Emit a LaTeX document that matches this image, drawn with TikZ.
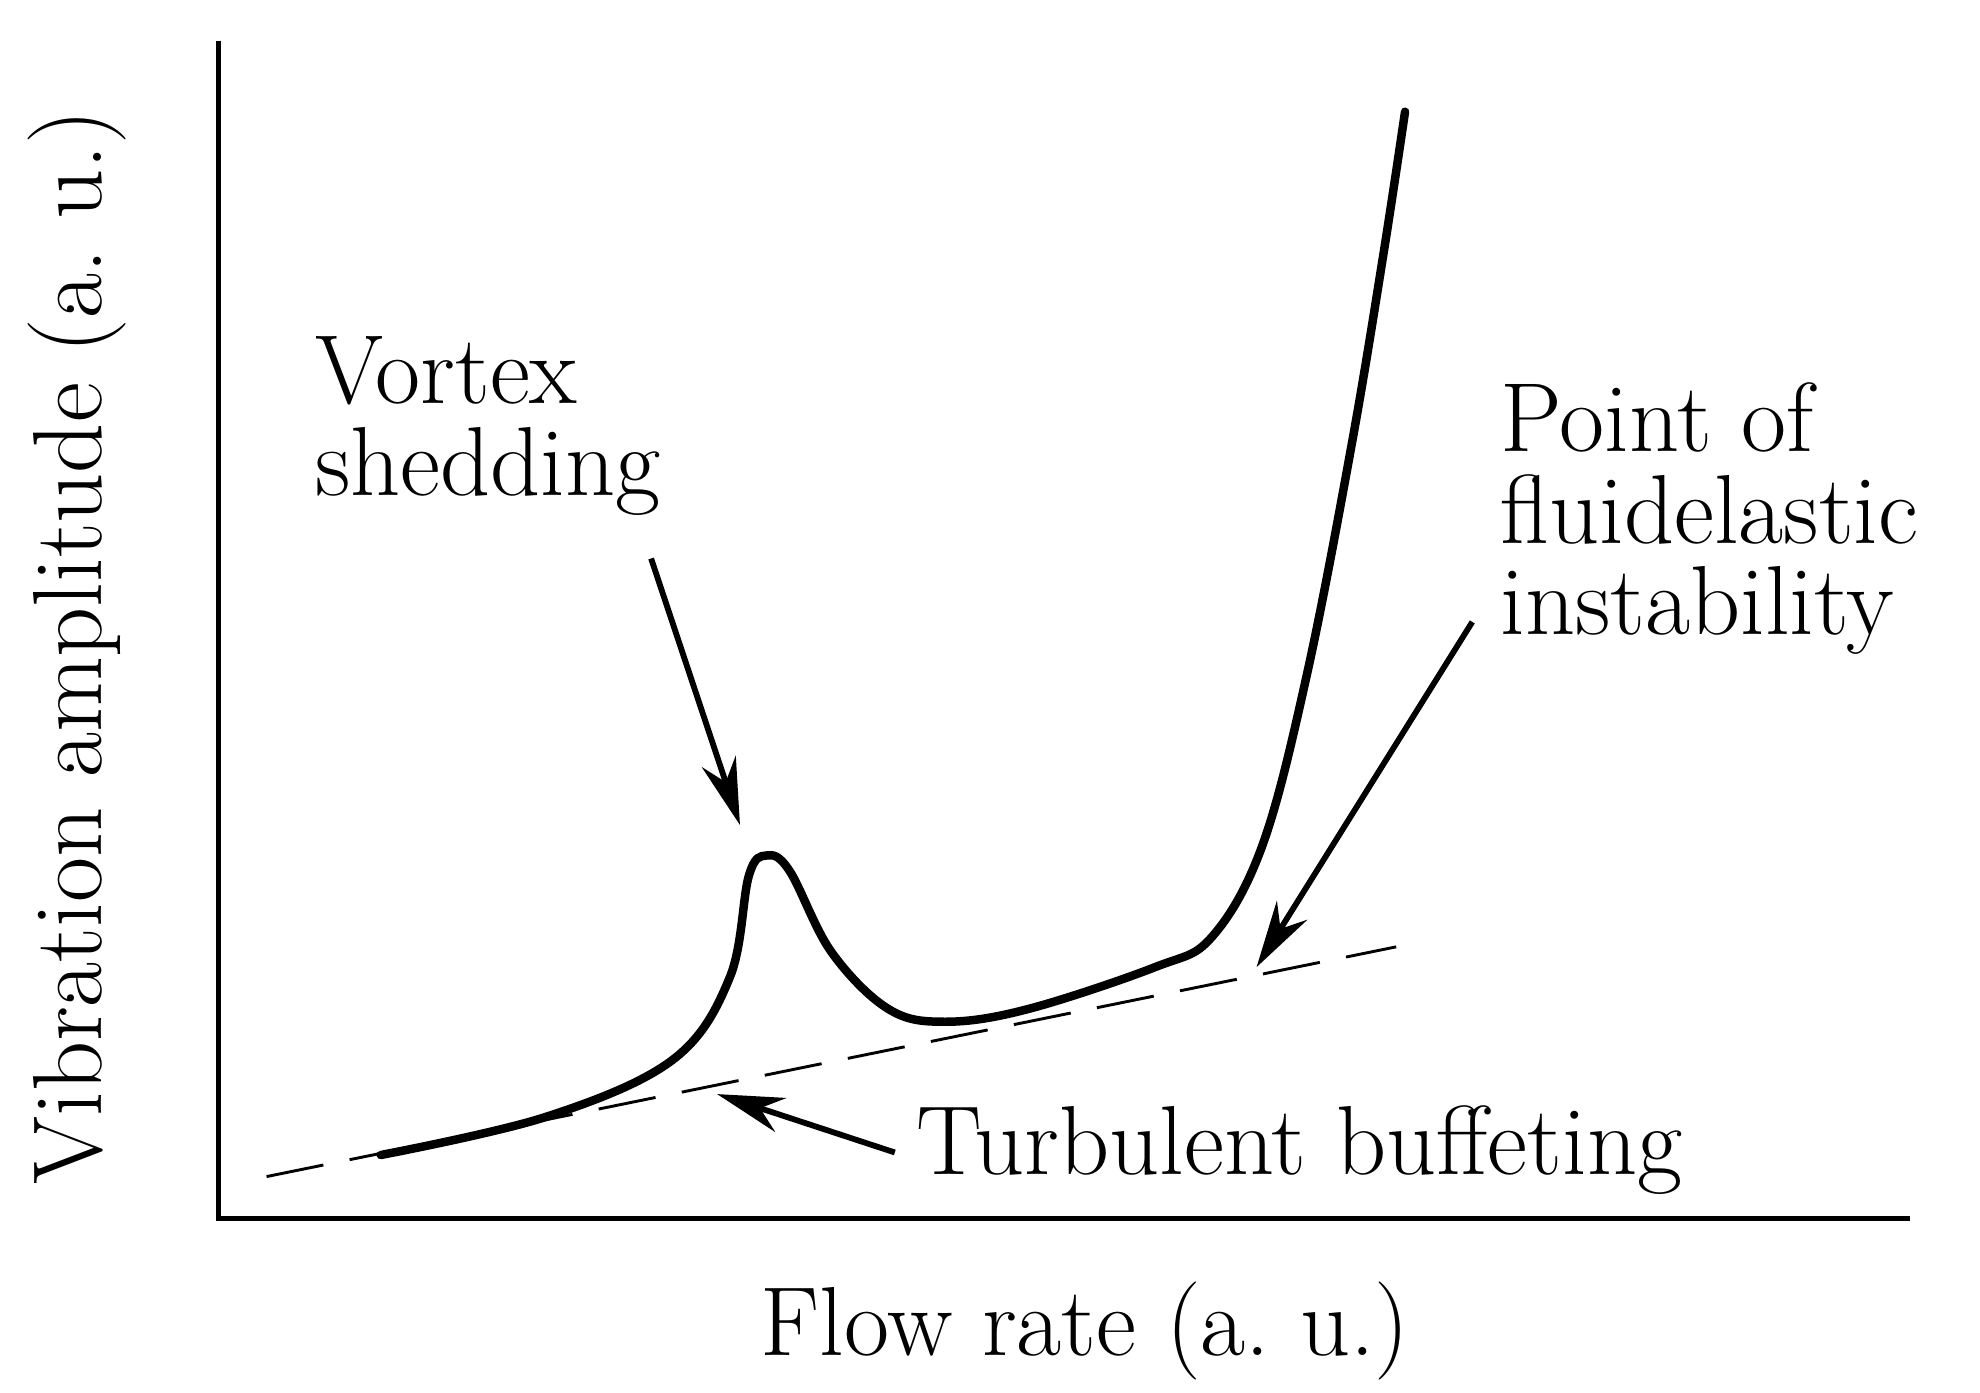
\documentclass[tikz,border=0pt]{standalone}
\usetikzlibrary{arrows.meta}
\begin{document}
\begin{tikzpicture}[x=0.02cm,y=-0.02cm,
  lbl/.style={font=\fontsize{44}{41}\selectfont,inner sep=0pt,align=left},
  ax/.style={line width=2.3pt},
  arr/.style={line width=2.6pt,-{Stealth[length=30pt,width=16pt]}}]
\useasboundingbox (0,0) rectangle (1560,1097.5);
\coordinate (top) at (172,32);
\coordinate (org) at (172,960);
\coordinate (right) at (1505,960);
\draw[ax] (top) -- (org) -- (right);
\coordinate (d1) at (210,927);
\coordinate (d2) at (1100,746);
\draw[line width=1.3pt,dash pattern=on 26pt off 12pt] (d1) -- (d2);
\draw[line width=3.8pt,line cap=round] plot[smooth,tension=0.6] coordinates {
 (300,910) (430,880) (530,835) (575,770) (590,690) (604,674) (622,686) (655,750) (700,795) (745,805) (810,795) (910,762) (955,738) (995,665) (1030,530) (1065,350) (1090,200) (1107,88)};
\node[lbl,anchor=base west] (vs) at (248,390) {Vortex\\shedding};
\node[lbl,anchor=base west] (pf) at (1182,500) {Point of\\fluidelastic\\instability};
\node[lbl,anchor=base west] (tb) at (722,925) {Turbulent buffeting};
\node[lbl,anchor=base] (xl) at (855,1068) {Flow rate (a.\ u.)};
\node[lbl,rotate=90,anchor=base] (yl) at (80,510) {Vibration amplitude (a.\ u.)};
\coordinate (vsE) at (583,650);
\coordinate (pfE) at (990,762);
\coordinate (tbE) at (565,862);
\draw[arr] (513,440) -- (vsE);
\draw[arr] (1160,490) -- (pfE);
\draw[arr] (705,908) -- (tbE);
\end{tikzpicture}
\end{document}
